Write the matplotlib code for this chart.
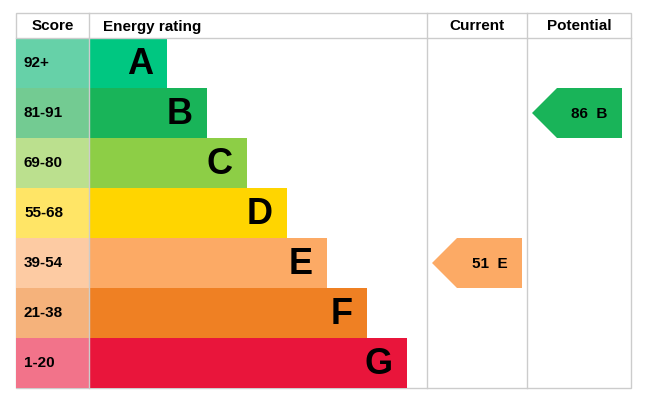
import matplotlib
matplotlib.use("Agg")
import matplotlib.pyplot as plt
from matplotlib.patches import Rectangle, Polygon

letters = ["A", "B", "C", "D", "E", "F", "G"]
ranges = ["92+", "81-91", "69-80", "55-68", "39-54", "21-38", "1-20"]
lower = [92, 81, 69, 55, 39, 21, 1]
bar_colors = ["#00c781", "#19b459", "#8dce46", "#ffd500", "#fcaa65", "#ef8023", "#e9153b"]
score_colors = ["#66d1a8", "#73cb92", "#bbe08e", "#ffe566", "#fdcba3", "#f5b27b", "#f2738a"]
current = 51
potential = 86

def band(v):
    for i, lo in enumerate(lower):
        if v >= lo:
            return i
    return len(lower) - 1

W, H = 646, 416
fig = plt.figure(figsize=(W/100, H/100), dpi=100)
ax = fig.add_axes([0, 0, 1, 1])
ax.set_xlim(0, W); ax.set_ylim(H, 0); ax.axis("off")
fn = "Liberation Sans"
L, R, T, HB, RH = 16, 631, 13, 38, 50
c1, c2, c3 = 89, 427, 527
grid = "#cccccc"
# table lines
ax.add_patch(Rectangle((L, T), R-L, HB-T + RH*7, fill=False, ec=grid, lw=1))
ax.plot([L, R], [HB, HB], color=grid, lw=1)
for x in (c1, c2, c3):
    ax.plot([x, x], [T, HB + RH*7], color=grid, lw=1)
for x, t in [((L+c1)/2, "Score"), (c1+14, "Energy rating"), ((c2+c3)/2, "Current"), ((c3+R)/2, "Potential")]:
    ax.text(x, (T+HB)/2+1, t, ha="left" if t == "Energy rating" else "center", va="center",
            fontsize=11, fontweight="bold", family=fn)
for i in range(7):
    y = HB + RH*i
    ax.add_patch(Rectangle((L, y), c1-L, RH, color=score_colors[i], lw=0))
    ax.text(L+8, y+RH/2, ranges[i], ha="left", va="center", fontsize=11, fontweight="bold", family=fn)
    xe = c1 + 78 + 40*i
    ax.add_patch(Rectangle((c1, y), xe-c1, RH, color=bar_colors[i], lw=0))
    ax.text(xe-14, y+RH/2+1, letters[i], ha="right", va="center", fontsize=26, fontweight="bold", family=fn)

def arrow(v, x0, x1):
    i = band(v)
    y = HB + RH*i
    ax.add_patch(Polygon([(x0, y+RH/2), (x0+25, y), (x1, y), (x1, y+RH), (x0+25, y+RH)],
                         closed=True, color=bar_colors[i], lw=0))
    ax.text((x0+25+x1)/2, y+RH/2+1, f"{v}  {letters[i]}", ha="center", va="center",
            fontsize=11, fontweight="bold", family=fn)

arrow(current, 432, 522)
arrow(potential, 532, 622)
fig.savefig("out.png", dpi=100)
